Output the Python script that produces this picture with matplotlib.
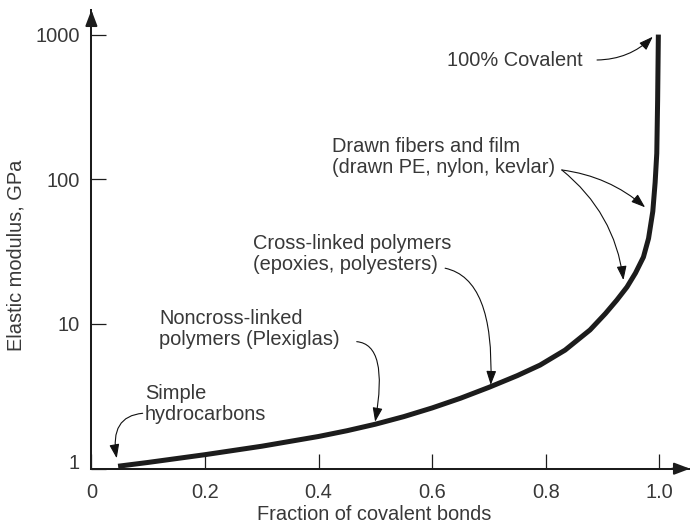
import matplotlib
matplotlib.use("Agg")
import matplotlib.pyplot as plt
from matplotlib.patches import FancyArrowPatch
from matplotlib.ticker import FixedLocator, NullLocator

plt.rcParams['font.family'] = ['Liberation Sans', 'DejaVu Sans']

# Elastic modulus (GPa) against the fraction of covalent bonds
fraction = [0.047, 0.1, 0.2, 0.3, 0.4, 0.45, 0.5, 0.55, 0.6, 0.65, 0.7,
            0.75, 0.79, 0.834, 0.878, 0.905, 0.925, 0.943, 0.958, 0.972,
            0.981, 0.9885, 0.9926, 0.9955, 0.997, 0.9983]
modulus = [1.04, 1.105, 1.25, 1.43, 1.67, 1.83, 2.03, 2.29, 2.63, 3.07, 3.65,
           4.4, 5.2, 6.6, 9.1, 11.8, 14.6, 18.0, 22.5, 29,
           39, 60, 95, 151, 352, 1000]

x_ticks = [0, 0.2, 0.4, 0.6, 0.8, 1.0]
x_tick_labels = ["0", "0.2", "0.4", "0.6", "0.8", "1.0"]
y_ticks = [1, 10, 100, 1000]
y_tick_labels = ["1", "10", "100", "1000"]

# label text, (x, y) of the last line's baseline, arrows (start, tip, connection)
notes = [
    ("100% Covalent", (0.6258, 607),
     [((0.8903, 667.5), (0.9885, 967), "arc3,rad=0.2")]),
    ("Drawn fibers and film\n(drawn PE, nylon, kevlar)", (0.4232, 110.5),
     [((0.8283, 116), (0.975, 64.0), "arc3,rad=-0.15"),
      ((0.8283, 116), (0.9368, 20.1), "arc3,rad=-0.2")]),
    ("Cross-linked polymers\n(epoxies, polyesters)", (0.2846, 23.6),
     [((0.6228, 24.3), (0.7032, 3.79), "angle3,angleA=-12,angleB=88")]),
    ("Noncross-linked\npolymers (Plexiglas)", (0.1196, 7.16),
     [((0.4672, 7.55), (0.4996, 2.11), "angle3,angleA=-5,angleB=80")]),
    ("Simple\nhydrocarbons", (0.0944, 2.17),
     [((0.0903, 2.415), (0.0446, 1.18), "angle3,angleA=5,angleB=100")]),
]

text_color = "#383838"
ink = "#1c1c1c"
fs = 14.4

fig = plt.figure(figsize=(6.9, 5.32), dpi=100)
ax = fig.add_axes([91.4 / 690, 1 - 468.7 / 532, 1 - 91.4 / 690, (468.7 - 10) / 532])

ax.plot(fraction, modulus, color=ink, lw=3.6, solid_capstyle="butt",
        solid_joinstyle="round")

ax.set_yscale("log")
ax.set_xlim(0, 1.054)
ax.set_ylim(1, 1479)

ax.xaxis.set_major_locator(FixedLocator(x_ticks))
ax.set_xticklabels(x_tick_labels)
ax.yaxis.set_major_locator(FixedLocator(y_ticks))
ax.yaxis.set_minor_locator(NullLocator())
ax.set_yticklabels(y_tick_labels)
ax.yaxis.get_ticklabels()[0].set_va("baseline")

for side in ("top", "right"):
    ax.spines[side].set_visible(False)
for side in ("left", "bottom"):
    ax.spines[side].set_linewidth(1.45)
    ax.spines[side].set_color(ink)

ax.tick_params(axis="both", direction="in", length=10.8, width=0.9,
               color=ink, labelsize=fs, labelcolor=text_color)
ax.tick_params(axis="y", pad=8.4)
ax.tick_params(axis="x", pad=10)

# arrowheads at the ends of both axes
for start, end in (((0, 0.97), (0, 1.0)), ((0.97, 0), (1.0, 0))):
    ax.add_patch(FancyArrowPatch(start, end, transform=ax.transAxes,
                                 arrowstyle="-|>,head_length=9.5,head_width=3.6",
                                 mutation_scale=1, color=ink, lw=1.45,
                                 shrinkA=0, shrinkB=0, clip_on=False))

fig.text(16.5 / 690, 1 - 255 / 532, "Elastic modulus, GPa", rotation=90,
         ha="center", va="center", fontsize=fs, color=text_color)
fig.text(374 / 690, 1 - 520 / 532, "Fraction of covalent bonds",
         ha="center", va="baseline", fontsize=fs, color=text_color)

for label, (tx, ty), arrows in notes:
    ax.text(tx, ty, label, ha="left", va="baseline", fontsize=fs,
            color=text_color, linespacing=1.15)
    for start, tip, conn in arrows:
        ax.add_patch(FancyArrowPatch(start, tip, connectionstyle=conn,
                                     arrowstyle="-|>,head_length=8.5,head_width=3",
                                     mutation_scale=1, color="#111111", lw=0.8,
                                     shrinkA=0, shrinkB=0, clip_on=False))

fig.savefig("out.png", dpi=100)
